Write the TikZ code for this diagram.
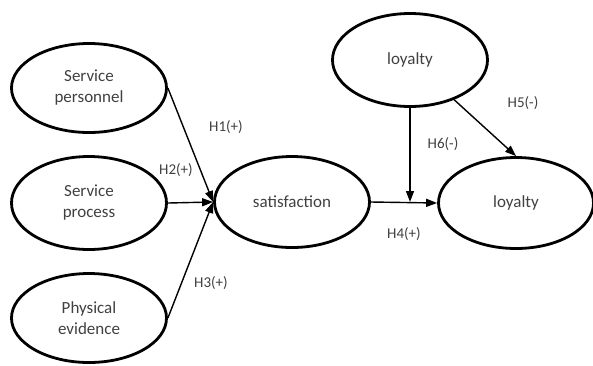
\documentclass[tikz,border=0pt]{standalone}
\usepackage{fontspec}
\setmainfont{Carlito}
\usepackage{tikz}
\usetikzlibrary{arrows.meta,shapes.geometric}

\begin{document}
\begin{tikzpicture}[x=1pt, y=-1pt, construct/.style={draw, ellipse, line width=2.8pt, minimum width=155pt, minimum height=89pt, inner sep=0pt, align=center, font=\fontsize{17}{21}\selectfont, text=black!75}, path/.style={-{Triangle[length=11pt,width=8pt]}, line width=1.4pt}, hyp/.style={font=\fontsize{15}{18}\selectfont, text=black!75}]
\useasboundingbox (0,0) rectangle (593,365);
\node[construct] (pers) at (89,88)  {Service\\personnel};
\node[construct, minimum height=93pt] (proc) at (89,203) {Service\\process};
\node[construct] (phys) at (89,318) {Physical\\evidence};
\node[construct, minimum height=91pt] (sat)  at (292,202) {satisfaction};
\node[construct, minimum height=93pt] (loyA) at (410,60)  {loyalty};
\node[construct, minimum height=91pt] (loyB) at (516,203) {loyalty};
\coordinate (join) at (loyA.south |- sat.east);
\draw[path] (pers.east) -- (sat.west);
\draw[path] (proc.east) -- (sat.west);
\draw[path] (phys.east) -- (sat.west);
\draw[path] (sat.east) -- (loyB.west);
\draw[path] (loyA.south) -- (join);
\draw[path] (loyA.-42) -- (loyB.north);
\node[hyp] (h1) at (226,127) {H1(+)};
\node[hyp] (h2) at (176,170) {H2(+)};
\node[hyp] (h3) at (211,283) {H3(+)};
\node[hyp] (h4) at (404,234) {H4(+)};
\node[hyp] (h5) at (523,103) {H5(-)};
\node[hyp] (h6) at (443,144) {H6(-)};
\end{tikzpicture}
\end{document}
